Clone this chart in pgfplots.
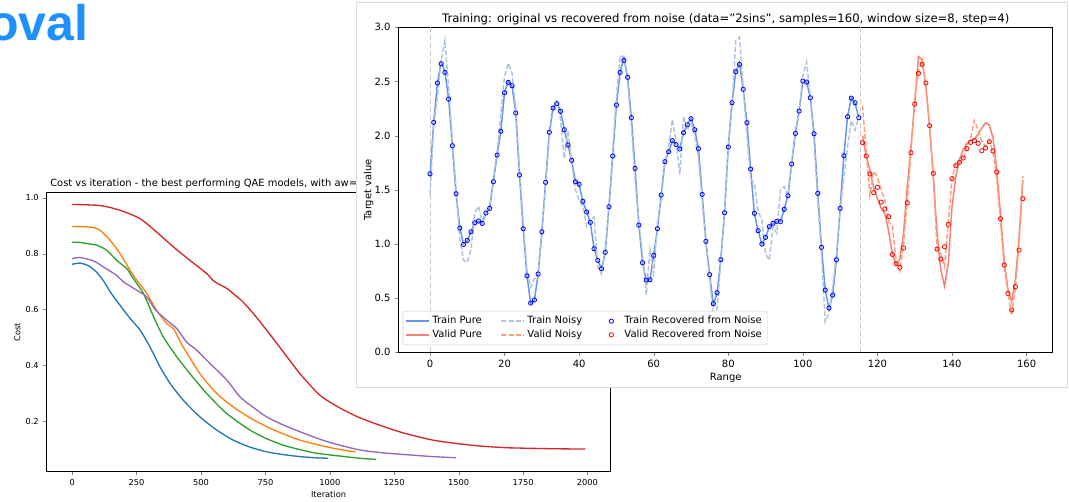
\documentclass[border=0pt]{standalone}
\usepackage{pgfplots}
\pgfplotsset{compat=1.18}
\usepackage{pgfplotstable}
\usepackage{fontspec}
\setmainfont{DejaVu Sans}
\newfontfamily\arialfont{Liberation Sans}

\definecolor{tabblue}{RGB}{31,119,180}
\definecolor{taborange}{RGB}{255,127,14}
\definecolor{tabgreen}{RGB}{44,160,44}
\definecolor{tabred}{RGB}{214,39,40}
\definecolor{tabpurple}{RGB}{148,103,189}
\definecolor{cornflower}{RGB}{100,149,237}
\definecolor{lsteel}{RGB}{176,196,222}
\definecolor{salmonc}{RGB}{250,128,114}
\definecolor{lsalmon}{RGB}{255,160,122}
\definecolor{titleblue}{RGB}{30,144,255}
\definecolor{recblue}{RGB}{0,0,255}
\definecolor{recred}{RGB}{255,0,0}

\pgfplotstableread{
t pure noisy rec
0 1.62 1.45 1.648
1 2.12 2.10 2.123
2 2.49 2.35 2.486
3 2.68 2.70 2.664
4 2.59 2.88 2.584
5 2.34 2.45 2.338
6 1.91 1.95 1.907
7 1.46 1.50 1.464
8 1.15 1.05 1.147
9 1.00 0.85 0.996
10 1.03 0.83 1.033
11 1.11 0.95 1.113
12 1.20 1.28 1.196
13 1.21 1.35 1.212
14 1.19 1.20 1.190
15 1.29 1.30 1.286
16 1.33 1.35 1.329
17 1.58 1.60 1.575
18 1.82 1.85 1.821
19 2.04 2.20 2.040
20 2.40 2.55 2.397
21 2.50 2.67 2.492
22 2.46 2.58 2.461
23 2.21 2.25 2.209
24 1.64 1.70 1.637
25 1.14 1.20 1.141
26 0.71 0.75 0.707
27 0.45 0.60 0.455
28 0.48 0.68 0.483
29 0.72 0.72 0.723
30 1.11 1.10 1.113
31 1.57 1.55 1.569
32 2.03 2.00 2.031
33 2.26 2.22 2.255
34 2.31 2.33 2.295
35 2.23 2.15 2.225
36 2.06 1.79 2.055
37 1.91 2.05 1.914
38 1.77 1.75 1.772
39 1.58 1.50 1.575
40 1.55 1.40 1.551
41 1.39 1.35 1.394
42 1.30 1.16 1.295
43 1.20 1.22 1.200
44 0.96 1.25 0.957
45 0.85 0.79 0.849
46 0.77 0.72 0.772
47 0.92 0.95 0.923
48 1.34 1.35 1.344
49 1.81 1.85 1.812
50 2.28 2.35 2.283
51 2.59 2.74 2.584
52 2.72 2.72 2.695
53 2.54 2.50 2.538
54 2.17 2.10 2.166
55 1.70 1.60 1.698
56 1.18 1.20 1.175
57 0.83 0.90 0.827
58 0.66 0.53 0.667
59 0.67 0.95 0.670
60 0.90 0.73 0.895
61 1.14 1.20 1.141
62 1.45 1.40 1.452
63 1.76 1.75 1.760
64 1.85 1.90 1.852
65 1.95 2.15 1.954
66 1.92 1.95 1.917
67 1.88 1.64 1.877
68 2.03 2.18 2.028
69 2.10 2.05 2.101
70 2.16 2.12 2.157
71 2.06 2.00 2.055
72 1.88 1.80 1.880
73 1.46 1.40 1.458
74 1.02 1.00 1.024
75 0.72 0.70 0.717
76 0.44 0.30 0.449
77 0.55 0.40 0.551
78 0.86 0.85 0.855
79 1.29 1.30 1.289
80 1.90 1.90 1.895
81 2.30 2.30 2.304
82 2.59 2.88 2.590
83 2.67 2.91 2.658
84 2.43 2.45 2.428
85 2.12 2.00 2.120
86 1.69 1.60 1.692
87 1.28 1.56 1.283
88 1.12 1.30 1.123
89 1.00 1.22 0.999
90 1.06 0.91 1.061
91 1.16 0.85 1.160
92 1.19 1.16 1.191
93 1.21 1.10 1.209
94 1.21 1.50 1.206
95 1.32 1.53 1.320
96 1.45 1.45 1.446
97 1.74 1.75 1.738
98 2.02 2.05 2.021
99 2.23 2.20 2.227
100 2.50 2.55 2.504
101 2.50 2.68 2.495
102 2.35 2.35 2.350
103 2.02 1.95 2.018
104 1.47 1.40 1.467
105 0.97 0.90 0.969
106 0.58 0.28 0.575
107 0.40 0.36 0.409
108 0.53 0.60 0.529
109 0.86 0.90 0.855
110 1.33 1.30 1.329
111 1.82 1.62 1.815
112 2.18 1.90 2.175
113 2.35 2.14 2.347
114 2.30 2.05 2.304
115 2.17 2.17 2.166
}\traintab

\pgfplotstableread{
t pure noisy rec
116 2.00 2.28 1.935
117 1.81 1.85 1.812
118 1.68 1.45 1.646
119 1.52 1.67 1.474
120 1.42 1.62 1.523
121 1.33 1.50 1.387
122 1.28 1.41 1.323
123 1.12 1.20 1.252
124 0.91 1.17 0.904
125 0.81 0.85 0.818
126 0.86 0.75 0.784
127 1.10 1.00 0.963
128 1.53 1.40 1.381
129 1.90 1.85 1.843
130 2.30 2.35 2.292
131 2.73 2.60 2.575
132 2.70 2.70 2.658
133 2.45 2.45 2.486
134 2.08 2.10 2.092
135 1.62 1.60 1.652
136 1.10 0.95 0.953
137 0.76 0.91 0.861
138 0.61 0.79 0.975
139 0.82 1.20 1.181
140 1.34 1.60 1.603
141 1.62 1.75 1.723
142 1.78 1.75 1.754
143 1.87 1.78 1.794
144 1.93 1.90 1.880
145 1.96 1.98 1.938
146 1.97 2.14 1.954
147 2.01 2.05 1.929
148 2.07 1.95 1.861
149 2.12 1.90 1.886
150 2.10 1.95 1.944
151 1.98 1.85 1.858
152 1.68 1.60 1.664
153 1.28 1.20 1.234
154 0.85 0.80 0.806
155 0.58 0.55 0.544
156 0.47 0.34 0.391
157 0.67 0.60 0.606
158 1.07 1.00 0.944
159 1.59 1.63 1.418
}\validtab

\begin{document}
\begin{tikzpicture}
\useasboundingbox (0,0) rectangle (801.75pt,375.75pt);

\node[anchor=base east, inner sep=0pt, text=titleblue,
  font=\arialfont\bfseries\fontsize{37.5}{40}\selectfont] at (66.5pt,345.2pt) {oval};

% background chart
\begin{axis}[
  at={(35pt,21.98pt)}, anchor=south west,
  scale only axis, width=422.8pt, height=209.25pt,
  xmin=-99, xmax=2089, ymin=0.02, ymax=1.018,
  xtick={0,250,500,750,1000,1250,1500,1750,2000},
  ytick={0.2,0.4,0.6,0.8,1.0},
  tick align=outside, xtick pos=lower, ytick pos=left,
  major tick length=2.4pt,
  tick label style={font=\fontsize{6.2}{7}\selectfont},
  label style={font=\fontsize{6.2}{7}\selectfont},
  /pgf/number format/assume math mode=true,
  /pgf/number format/1000 sep={},
  yticklabel style={/pgf/number format/fixed,/pgf/number format/fixed zerofill,/pgf/number format/precision=1},
  xlabel={Iteration}, ylabel={Cost},
  xlabel style={yshift=3pt},
  ylabel style={yshift=-3pt},
  every axis plot/.append style={line width=1pt, smooth, tension=0.45},
]
\addplot[tabblue] coordinates {(0,0.762)(30,0.766)(60,0.758)(90,0.738)(120,0.705)(150,0.660)(186,0.615)(225,0.568)(264,0.526)(302,0.466)(341,0.395)(380,0.336)(431,0.276)(496,0.216)(561,0.169)(625,0.133)(690,0.108)(755,0.091)(820,0.081)(884,0.074)(940,0.070)(993,0.068)};
\addplot[taborange] coordinates {(0,0.897)(50,0.896)(83,0.893)(109,0.883)(147,0.848)(186,0.800)(225,0.740)(251,0.705)(290,0.657)(328,0.597)(367,0.550)(393,0.532)(431,0.466)(496,0.371)(561,0.300)(625,0.252)(690,0.213)(755,0.181)(820,0.155)(884,0.133)(950,0.117)(1013,0.104)(1060,0.096)(1100,0.091)};
\addplot[tabgreen] coordinates {(0,0.841)(30,0.840)(57,0.836)(96,0.830)(134,0.812)(173,0.776)(212,0.746)(238,0.710)(277,0.657)(316,0.574)(354,0.502)(406,0.431)(457,0.371)(522,0.300)(600,0.228)(690,0.169)(755,0.138)(819,0.115)(884,0.099)(948,0.086)(1039,0.076)(1116,0.068)(1180,0.064)};
\addplot[tabred] coordinates {(0,0.976)(109,0.972)(186,0.955)(264,0.925)(328,0.877)(393,0.824)(457,0.776)(522,0.729)(548,0.703)(575,0.688)(600,0.676)(625,0.657)(660,0.630)(703,0.586)(755,0.526)(819,0.449)(884,0.371)(961,0.294)(1039,0.248)(1116,0.213)(1219,0.178)(1300,0.155)(1400,0.133)(1500,0.120)(1581,0.112)(1680,0.106)(1762,0.104)(1880,0.102)(1991,0.101)};
\addplot[tabpurple] coordinates {(0,0.782)(31,0.786)(83,0.774)(122,0.752)(173,0.722)(199,0.699)(251,0.669)(290,0.645)(322,0.600)(367,0.562)(406,0.532)(444,0.484)(483,0.455)(522,0.419)(600,0.348)(651,0.288)(703,0.250)(755,0.216)(820,0.187)(884,0.163)(950,0.140)(1013,0.121)(1116,0.098)(1200,0.088)(1310,0.080)(1400,0.074)(1490,0.070)};
\end{axis}
\node[anchor=base west, inner sep=0pt, font=\fontsize{7.45}{8}\selectfont] at (37.5pt,235.7pt) {Cost vs iteration - the best performing QAE models, with aw=};

% foreground panel
\filldraw[fill=white, draw=black!14, line width=0.6pt] (267.4pt,85pt) rectangle (800.25pt,374.25pt);

\begin{axis}[
  at={(299pt,111.5pt)}, anchor=south west,
  scale only axis, width=490.5pt, height=243.75pt,
  xmin=-8.4, xmax=167, ymin=0, ymax=3,
  xtick={0,20,...,160}, ytick={0,0.5,...,3},
  tick align=outside, xtick pos=lower, ytick pos=left,
  major tick length=2.6pt,
  tick label style={font=\fontsize{7.5}{9}\selectfont},
  label style={font=\fontsize{7.5}{9}\selectfont},
  /pgf/number format/assume math mode=true,
  yticklabel style={/pgf/number format/fixed,/pgf/number format/fixed zerofill,/pgf/number format/precision=1},
  xlabel={Range}, ylabel={Target value},
  xlabel style={yshift=3pt},
  ylabel style={yshift=-6pt},
  title={Training: original vs recovered from noise (data="2sins", samples=160, window size=8, step=4)},
  title style={font=\fontsize{8.75}{10}\selectfont, yshift=-8pt},
  legend columns=3,
  legend cell align=left,
  legend style={at={(0.006,0.022)}, anchor=south west, font=\fontsize{7.5}{9}\selectfont,
    draw=black!20, rounded corners=2pt, fill=white, fill opacity=0.8, text opacity=1,
    inner sep=2pt, row sep=-1pt,
    /tikz/every even column/.append style={column sep=12pt}},
]
\addplot[forget plot, color=black!20, line width=0.7pt, dash pattern=on 4pt off 2pt] coordinates {(0,0)(0,3)};
\addplot[forget plot, color=black!20, line width=0.7pt, dash pattern=on 4pt off 2pt] coordinates {(115.5,0)(115.5,3)};
\addplot[cornflower, line width=1.1pt] table[x=t,y=pure] {\traintab};
\addlegendentry{Train Pure}
\addplot[lsteel, line width=1.1pt, dash pattern=on 3.8pt off 1.6pt] table[x=t,y=noisy] {\traintab};
\addlegendentry{Train Noisy}
\addplot[only marks, mark=o, mark size=1.6pt, recblue, line width=0.6pt, mark options={fill=white},
  legend image code/.code={\path[draw=none,fill=none] (0cm,0cm) -- (0.55cm,0cm); \path[draw=none] plot[only marks] coordinates {(0.275cm,0cm)};}] table[x=t,y=rec] {\traintab};
\addlegendentry{Train Recovered from Noise}
\addplot[salmonc, line width=1.1pt] table[x=t,y=pure] {\validtab};
\addlegendentry{Valid Pure}
\addplot[lsalmon, line width=1.1pt, dash pattern=on 3.8pt off 1.6pt] table[x=t,y=noisy] {\validtab};
\addlegendentry{Valid Noisy}
\addplot[only marks, mark=o, mark size=1.6pt, recred, line width=0.6pt, mark options={fill=white},
  legend image code/.code={\path[draw=none,fill=none] (0cm,0cm) -- (0.55cm,0cm); \path[draw=none] plot[only marks] coordinates {(0.275cm,0cm)};}] table[x=t,y=rec] {\validtab};
\addlegendentry{Valid Recovered from Noise}
\end{axis}
\end{tikzpicture}
\end{document}
